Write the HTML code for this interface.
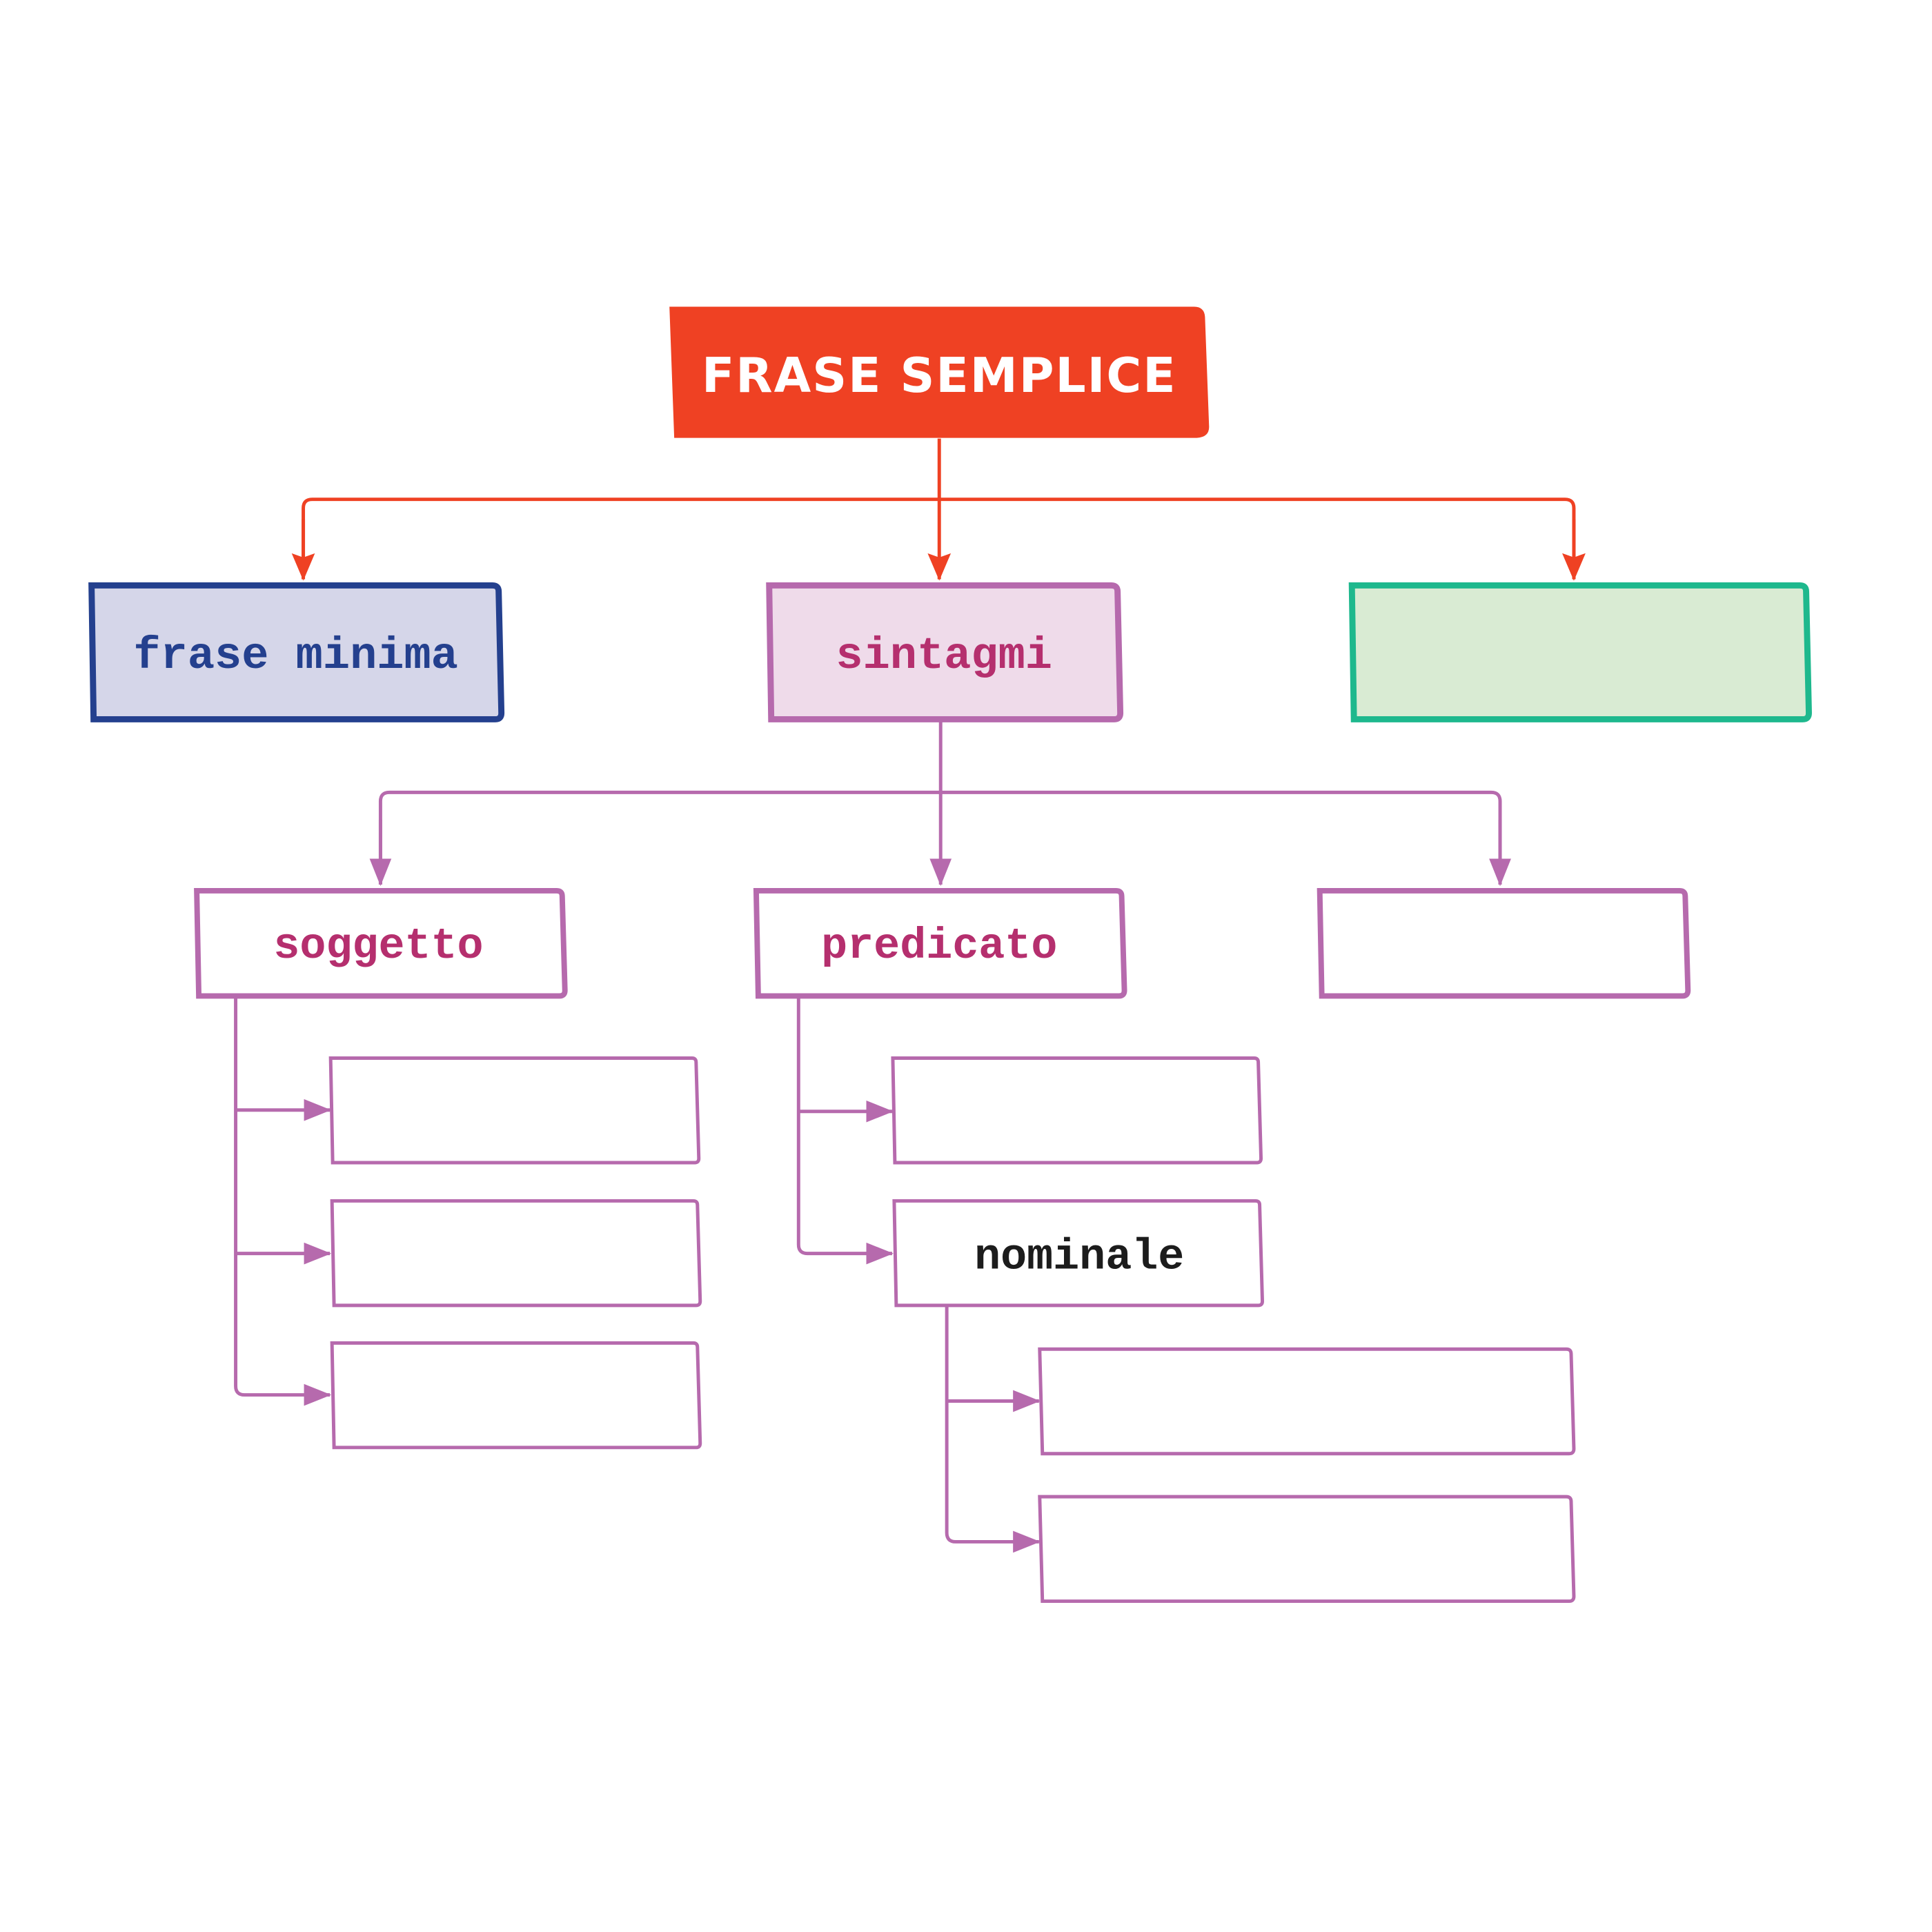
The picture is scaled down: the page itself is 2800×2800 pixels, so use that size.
<!DOCTYPE html>
<html><head><meta charset="utf-8"><style>
html,body{margin:0;padding:0;background:#fff;}
svg{display:block;}
.m{font-family:"Liberation Mono","DejaVu Sans Mono",monospace;font-weight:bold;}
</style></head><body>
<svg width="2800" height="2800" viewBox="0 0 2800 2800" xmlns="http://www.w3.org/2000/svg">
<defs>
<marker id="ar" markerUnits="userSpaceOnUse" markerWidth="40" markerHeight="34" refX="38" refY="17" orient="auto"><path d="M0,0 L40,17 L0,34 L6,17 Z" fill="#ef4123"/></marker>
<marker id="ap" markerUnits="userSpaceOnUse" markerWidth="40" markerHeight="32" refX="38" refY="16" orient="auto"><path d="M0,0 L40,16 L0,32 Z" fill="#b66aad"/></marker>
</defs>
<g transform="scale(0.99)">
<!-- root -->
<path d="M980,449 L1748,449 Q1763,449 1764,464 L1770,625 Q1770,640 1752,641 L987,641 Z" fill="#ef4123"/>
<text x="1375" y="574" text-anchor="middle" font-family="'DejaVu Sans','Liberation Sans',sans-serif" font-weight="bold" font-size="70" fill="#fff" letter-spacing="2">FRASE SEMPLICE</text>

<!-- red connectors -->
<g fill="none" stroke="#ef4123" stroke-width="5">
<path d="M1375,642 L1375,848" marker-end="url(#ar)"/>
<path d="M444,848 L444,744 Q444,731 457,731 L2291,731 Q2304,731 2304,744 L2304,848" marker-end="url(#ar)"/>
<path d="M444,760 L444,848" marker-end="url(#ar)"/>
<path d="M2304,760 L2304,848" marker-end="url(#ar)"/>
</g>

<!-- level 1 -->
<path d="M134,857 L721,857 Q730,857 730,866 L734,1044 Q734,1053 725,1053 L137,1053 Z" fill="#d5d6e9" stroke="#24408e" stroke-width="9"/>
<text x="433" y="978" text-anchor="middle" class="m" font-size="66" fill="#24408e">frase minima</text>
<path d="M1126,857 L1627,857 Q1636,857 1636,866 L1640,1044 Q1640,1053 1631,1053 L1129,1053 Z" fill="#efdbea" stroke="#b66aad" stroke-width="9"/>
<text x="1382" y="978" text-anchor="middle" class="m" font-size="66" fill="#b52f6e">sintagmi</text>
<path d="M1979,857 L2635,857 Q2644,857 2644,866 L2648,1044 Q2648,1053 2639,1053 L1982,1053 Z" fill="#d9ebd3" stroke="#1eb88d" stroke-width="9"/>

<!-- pink connectors level 2 -->
<g fill="none" stroke="#b66aad" stroke-width="5">
<path d="M1377,1057 L1377,1295" marker-end="url(#ap)"/>
<path d="M557,1295 L557,1173 Q557,1160 570,1160 L2183,1160 Q2196,1160 2196,1173 L2196,1295" marker-end="url(#ap)"/>
<path d="M557,1200 L557,1295" marker-end="url(#ap)"/>
<path d="M2196,1200 L2196,1295" marker-end="url(#ap)"/>
</g>

<!-- level 2 boxes -->
<g fill="#fff" stroke="#b66aad" stroke-width="8">
<path d="M288,1304 L815,1304 Q823,1304 823,1312 L827,1450 Q827,1458 819,1458 L291,1458 Z"/>
<path d="M1107,1304 L1634,1304 Q1642,1304 1642,1312 L1646,1450 Q1646,1458 1638,1458 L1110,1458 Z"/>
<path d="M1932,1304 L2459,1304 Q2467,1304 2467,1312 L2471,1450 Q2471,1458 2463,1458 L1935,1458 Z"/>
</g>
<text x="554" y="1402" text-anchor="middle" class="m" font-size="64" fill="#b52f6e">soggetto</text>
<text x="1375" y="1402" text-anchor="middle" class="m" font-size="64" fill="#b52f6e">predicato</text>

<!-- level 3 connectors -->
<g fill="none" stroke="#b66aad" stroke-width="5">
<path d="M345,1461 L345,2029 Q345,2042 358,2042 L483,2042" marker-end="url(#ap)"/>
<path d="M345,1625 L483,1625" marker-end="url(#ap)"/>
<path d="M345,1835 L483,1835" marker-end="url(#ap)"/>
<path d="M1169,1461 L1169,1822 Q1169,1835 1182,1835 L1306,1835" marker-end="url(#ap)"/>
<path d="M1169,1627 L1306,1627" marker-end="url(#ap)"/>
<path d="M1386,1912 L1386,2244 Q1386,2257 1399,2257 L1521,2257" marker-end="url(#ap)"/>
<path d="M1386,2051 L1521,2051" marker-end="url(#ap)"/>
</g>

<!-- level 3 boxes -->
<g fill="#fff" stroke="#b66aad" stroke-width="5">
<path d="M484,1549 L1013,1549 Q1019,1549 1019,1555 L1023,1696 Q1023,1702 1017,1702 L487,1702 Z"/>
<path d="M486,1758 L1015,1758 Q1021,1758 1021,1764 L1025,1905 Q1025,1911 1019,1911 L489,1911 Z"/>
<path d="M486,1966 L1015,1966 Q1021,1966 1021,1972 L1025,2113 Q1025,2119 1019,2119 L489,2119 Z"/>
<path d="M1307,1549 L1836,1549 Q1842,1549 1842,1555 L1846,1696 Q1846,1702 1840,1702 L1310,1702 Z"/>
<path d="M1309,1758 L1838,1758 Q1844,1758 1844,1764 L1848,1905 Q1848,1911 1842,1911 L1312,1911 Z"/>
<path d="M1522,1975 L2293,1975 Q2300,1975 2300,1982 L2304,2121 Q2304,2128 2297,2128 L1526,2128 Z"/>
<path d="M1522,2191 L2293,2191 Q2300,2191 2300,2198 L2304,2337 Q2304,2344 2297,2344 L1526,2344 Z"/>
</g>
<text x="1580" y="1857" text-anchor="middle" class="m" font-size="64" fill="#1c1c1c">nominale</text>
</g>
</svg>
</body></html>
